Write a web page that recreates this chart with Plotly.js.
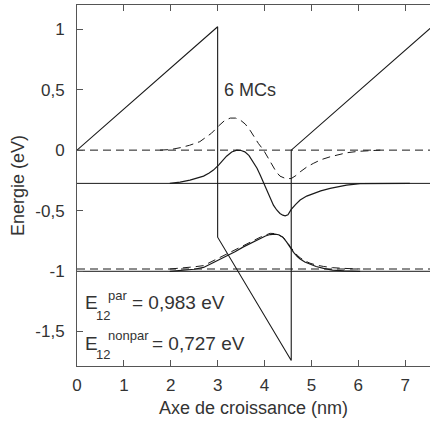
<!DOCTYPE html>
<html>
<head>
<meta charset="utf-8">
<script src="https://cdn.plot.ly/plotly-3.0.1.min.js"></script>
<style>html,body{margin:0;padding:0;background:#fff;}#chart{width:430px;height:428px;}</style>
</head>
<body>
<div id="chart"></div>
<script>
// Potential profile (conduction band)
const profileX = [0, 3, 3, 4.57, 4.57, 7.6];
const profileY = [0, 1.02, -0.72, -1.74, 0, 1.03];

// Energy levels
const levelsPar = [0, -0.983];
const levelsNonpar = [-0.275, -1.002];
const levelSpanX = [0, 7.6];

// Wavefunctions, state 1 (par, dashed)
const wf1ParX = [1.77, 2.0, 2.2, 2.4, 2.62, 2.87, 3.02, 3.15, 3.27, 3.38, 3.48, 3.59, 3.69, 3.78, 3.87, 3.98, 4.07, 4.15, 4.25, 4.33, 4.45, 4.57, 4.67, 4.76, 4.9, 5.04, 5.2, 5.4, 5.6, 5.75, 6.0, 6.18, 6.47];
const wf1ParY = [0, 0.005, 0.02, 0.04, 0.07, 0.14, 0.2, 0.245, 0.265, 0.265, 0.25, 0.215, 0.165, 0.11, 0.055, 0, -0.06, -0.124, -0.18, -0.215, -0.235, -0.235, -0.21, -0.18, -0.14, -0.11, -0.08, -0.055, -0.035, -0.022, -0.01, -0.006, 0];

// Wavefunction, state 1 (nonpar, solid)
const wf1NonX = [1.98, 2.2, 2.41, 2.55, 2.7, 2.82, 2.91, 3.02, 3.1, 3.19, 3.3, 3.41, 3.5, 3.58, 3.67, 3.76, 3.84, 3.91, 3.97, 4.03, 4.11, 4.19, 4.26, 4.33, 4.39, 4.44, 4.5, 4.57, 4.66, 4.76, 4.9, 5.04, 5.2, 5.4, 5.6, 5.75, 6.04, 6.5, 7.1];
const wf1NonY = [-0.275, -0.265, -0.248, -0.235, -0.215, -0.19, -0.165, -0.124, -0.085, -0.05, -0.015, 0, -0.003, -0.014, -0.045, -0.097, -0.15, -0.207, -0.26, -0.317, -0.39, -0.455, -0.495, -0.524, -0.538, -0.543, -0.535, -0.49, -0.45, -0.413, -0.38, -0.358, -0.337, -0.317, -0.302, -0.29, -0.277, -0.275, -0.275];

// Wavefunctions, state 2
const wf2X = [1.98, 2.3, 2.5, 2.7, 2.91, 3.0, 3.19, 3.37, 3.55, 3.73, 3.91, 4.02, 4.12, 4.22, 4.3, 4.39, 4.47, 4.55, 4.62, 4.7, 4.76, 4.86, 4.97, 5.1, 5.26, 5.45, 5.7, 6.04];
const wf2ParY = [-0.983, -0.975, -0.965, -0.955, -0.915, -0.9, -0.86, -0.83, -0.79, -0.755, -0.72, -0.7, -0.688, -0.69, -0.7, -0.72, -0.75, -0.8, -0.835, -0.87, -0.89, -0.915, -0.935, -0.95, -0.962, -0.972, -0.978, -0.983];
const wf2NonY = [-1.002, -0.995, -0.985, -0.97, -0.93, -0.915, -0.875, -0.84, -0.8, -0.765, -0.73, -0.71, -0.698, -0.695, -0.7, -0.72, -0.758, -0.81, -0.845, -0.88, -0.9, -0.925, -0.945, -0.962, -0.978, -0.992, -0.998, -1.002];

// Ticks
const xTickVals = [0, 1, 2, 3, 4, 5, 6, 7];
const yTickVals = [-1.5, -1, -0.5, 0, 0.5, 1];
const yTickText = ["-1,5", "-1", "-0,5", "0", "0,5", "1"];

const LC = '#1a1a1a';
const DASH = '8px,5px';
const FONT = 'Liberation Sans, Arial, sans-serif';
const TXT = '#333';

const traces = [];
function line(x, y, dash, w) {
  traces.push({x: x, y: y, mode: 'lines', type: 'scatter', hoverinfo: 'skip',
    line: {color: LC, width: w || 1, dash: dash || 'solid'}, showlegend: false});
}
levelsPar.forEach(v => line(levelSpanX, levelSpanX.map(() => v), DASH));
levelsNonpar.forEach(v => line(levelSpanX, levelSpanX.map(() => v), 'solid'));
line(profileX, profileY, 'solid', 1.1);
line(wf1ParX, wf1ParY, DASH);
line(wf1NonX, wf1NonY, 'solid', 1.2);
line(wf2X, wf2ParY, DASH);
line(wf2X, wf2NonY, 'solid', 1.2);

function ann(text, x, y, size, xanchor) {
  return {text: text, x: x, y: y, xref: 'x', yref: 'y', showarrow: false,
    xanchor: xanchor || 'left', yanchor: 'middle', font: {family: FONT, size: size, color: TXT}};
}

const layout = {
  width: 430, height: 428,
  margin: {l: 77, r: 0, t: 5, b: 62},
  paper_bgcolor: '#fff', plot_bgcolor: '#fff',
  font: {family: FONT, color: TXT},
  xaxis: {
    range: [0, 7.53], tickvals: xTickVals, ticks: 'inside', ticklen: 6, tickcolor: '#555',
    showline: true, linecolor: '#555', linewidth: 1, mirror: 'ticks', showgrid: false, zeroline: false,
    tickfont: {size: 17, color: TXT, family: FONT}, ticklabelstandoff: 4,
    title: {text: 'Axe de croissance (nm)', font: {size: 18, color: TXT, family: FONT}, standoff: 6}
  },
  yaxis: {
    range: [-1.785, 1.2], tickvals: yTickVals, ticktext: yTickText, ticks: 'inside', ticklen: 6, tickcolor: '#555',
    showline: true, linecolor: '#555', linewidth: 1, showgrid: false, zeroline: false,
    tickfont: {size: 17, color: TXT, family: FONT}, ticklabelstandoff: 8,
    title: {text: 'Energie (eV)', font: {size: 18, color: TXT, family: FONT}, standoff: 6}
  },
  annotations: [
    ann('6 MCs', 3.68, 0.5, 18, 'center'),
    ann('E', 0.12, -1.256, 19),
    ann('12', 0.36, -1.368, 13),
    ann('par', 0.62, -1.2, 13),
    ann('= 0,983 eV', 1.12, -1.256, 19),
    ann('E', 0.12, -1.603, 19),
    ann('12', 0.36, -1.686, 13),
    ann('nonpar', 0.62, -1.53, 13),
    ann('= 0,727 eV', 1.56, -1.603, 19)
  ]
};

Plotly.newPlot('chart', traces, layout, {staticPlot: true, displayModeBar: false});
</script>
</body>
</html>
